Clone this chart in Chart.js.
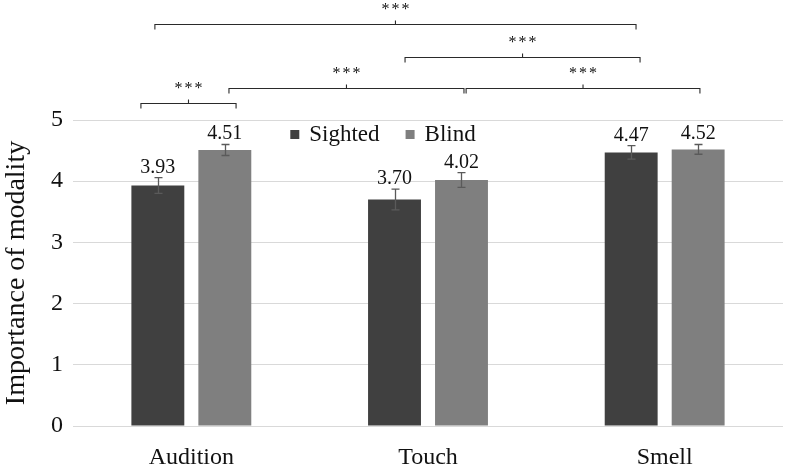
<!DOCTYPE html>
<html><head><meta charset="utf-8">
<script src="https://cdn.jsdelivr.net/npm/chart.js@4/dist/chart.umd.min.js"></script>
<style>html,body{margin:0;padding:0;background:#fff}#wrap{width:786px;height:465px;position:relative}</style>
</head><body><div id="wrap"><canvas id="c" width="786" height="465"></canvas></div>
<script>
// ---- data ----
const categories = ['Audition', 'Touch', 'Smell'];
const seriesNames = ['Sighted', 'Blind'];
const sighted = [3.93, 3.70, 4.47];
const blind = [4.51, 4.02, 4.52];
const sightedErr = [0.13, 0.17, 0.11];
const blindErr = [0.09, 0.12, 0.08];
const yTickValues = [0, 1, 2, 3, 4, 5];
const yTitle = 'Importance of modality';
// significance brackets: span on the category axis (fractional index) and height in value units
const bracketFrom = [-0.154, 0.903, 0.159, 1.161, -0.213];
const bracketTo = [1.879, 1.896, 1.152, 2.149, 0.189];
const bracketLevel = [6.57, 6.03, 5.52, 5.52, 5.28];
const bracketLabel = ['***', '***', '***', '***', '***'];

const colors = ['#404040', '#7f7f7f'];
const SERIF = '"Liberation Serif", "Times New Roman", serif';
const errors = [sightedErr, blindErr];

const annot = {
  id: 'annot',
  afterDatasetsDraw(chart) {
    const ctx = chart.ctx, y = chart.scales.y;
    ctx.save();
    // error bars + value labels
    chart.data.datasets.forEach((ds, di) => {
      const meta = chart.getDatasetMeta(di);
      meta.data.forEach((bar, i) => {
        const v = ds.data[i], e = errors[di][i];
        const top = y.getPixelForValue(v + e), bot = y.getPixelForValue(v - e);
        const cx = Math.round(bar.x) + 0.5;
        ctx.strokeStyle = '#5a5a5a';
        ctx.lineWidth = 1.3;
        ctx.beginPath();
        ctx.moveTo(cx, top); ctx.lineTo(cx, bot);
        ctx.moveTo(cx - 4, top); ctx.lineTo(cx + 4, top);
        ctx.moveTo(cx - 4, bot); ctx.lineTo(cx + 4, bot);
        ctx.stroke();
        ctx.fillStyle = '#111';
        ctx.font = '20px ' + SERIF;
        ctx.textAlign = 'center';
        ctx.textBaseline = 'alphabetic';
        ctx.fillText(v.toFixed(2), bar.x, top - 5);
      });
    });
    ctx.restore();
  },
  afterDraw(chart) {
    const ctx = chart.ctx, y = chart.scales.y, x = chart.scales.x, ca = chart.chartArea;
    ctx.save();
    // legend inside plot area
    ctx.font = '23px ' + SERIF;
    const box = 9, gapText = 10, gapItem = 26;
    const widths = chart.data.datasets.map(d => box + gapText + ctx.measureText(d.label).width);
    const total = widths.reduce((a, b) => a + b, 0) + gapItem * (widths.length - 1);
    let lx = (ca.left + ca.right) / 2 - 45 - total / 2;
    const ly = ca.top + 14.5;
    chart.data.datasets.forEach((d, i) => {
      ctx.fillStyle = d.backgroundColor;
      ctx.fillRect(lx, ly - box / 2, box, box);
      ctx.fillStyle = '#111';
      ctx.textAlign = 'left';
      ctx.textBaseline = 'middle';
      ctx.fillText(d.label, lx + box + gapText, ly);
      lx += widths[i] + gapItem;
    });
    // significance brackets
    ctx.strokeStyle = '#2a2a2a';
    ctx.lineWidth = 1.1;
    bracketFrom.forEach((f, i) => {
      const x1 = x.getPixelForValue(f), x2 = x.getPixelForValue(bracketTo[i]);
      const by = Math.round(y.getPixelForValue(bracketLevel[i])) + 0.5;
      const mx = (x1 + x2) / 2;
      ctx.beginPath();
      ctx.moveTo(x1, by + 5); ctx.lineTo(x1, by); ctx.lineTo(x2, by); ctx.lineTo(x2, by + 5);
      ctx.moveTo(mx, by); ctx.lineTo(mx, by - 4);
      ctx.stroke();
      ctx.fillStyle = '#111';
      ctx.font = '16px ' + SERIF;
      ctx.letterSpacing = '2px';
      ctx.textAlign = 'center';
      ctx.textBaseline = 'alphabetic';
      ctx.fillText(bracketLabel[i], mx + 1, by - 11);
      ctx.letterSpacing = '0px';
    });
    ctx.restore();
  }
};

new Chart(document.getElementById('c'), {
  type: 'bar',
  data: {
    labels: categories,
    datasets: [
      { label: seriesNames[0], data: sighted, backgroundColor: colors[0] },
      { label: seriesNames[1], data: blind, backgroundColor: colors[1] }
    ]
  },
  options: {
    responsive: false,
    devicePixelRatio: 1,
    animation: false,
    categoryPercentage: 0.566,
    barPercentage: 0.79,
    layout: { padding: { top: 120, right: 3, left: 0, bottom: 0 } },
    plugins: { legend: { display: false }, tooltip: { enabled: false } },
    scales: {
      x: {
        grid: { display: false },
        border: { display: false },
        ticks: { color: '#111', font: { family: SERIF, size: 24 }, padding: 9, maxRotation: 0 },
        afterFit: s => { s.height = 39; }
      },
      y: {
        min: 0, max: 5,
        afterBuildTicks: s => { s.ticks = yTickValues.map(v => ({ value: v })); },
        grid: { color: '#d9d9d9', lineWidth: 1, drawTicks: false },
        border: { display: false },
        ticks: { color: '#111', font: { family: SERIF, size: 24 }, padding: 10 },
        title: { display: true, text: yTitle, color: '#111', font: { family: SERIF, size: 28, lineHeight: 1.1 }, padding: { top: 1, bottom: 0 } },
        afterFit: s => { s.width = 73; }
      }
    }
  },
  plugins: [annot]
});
</script></body></html>
